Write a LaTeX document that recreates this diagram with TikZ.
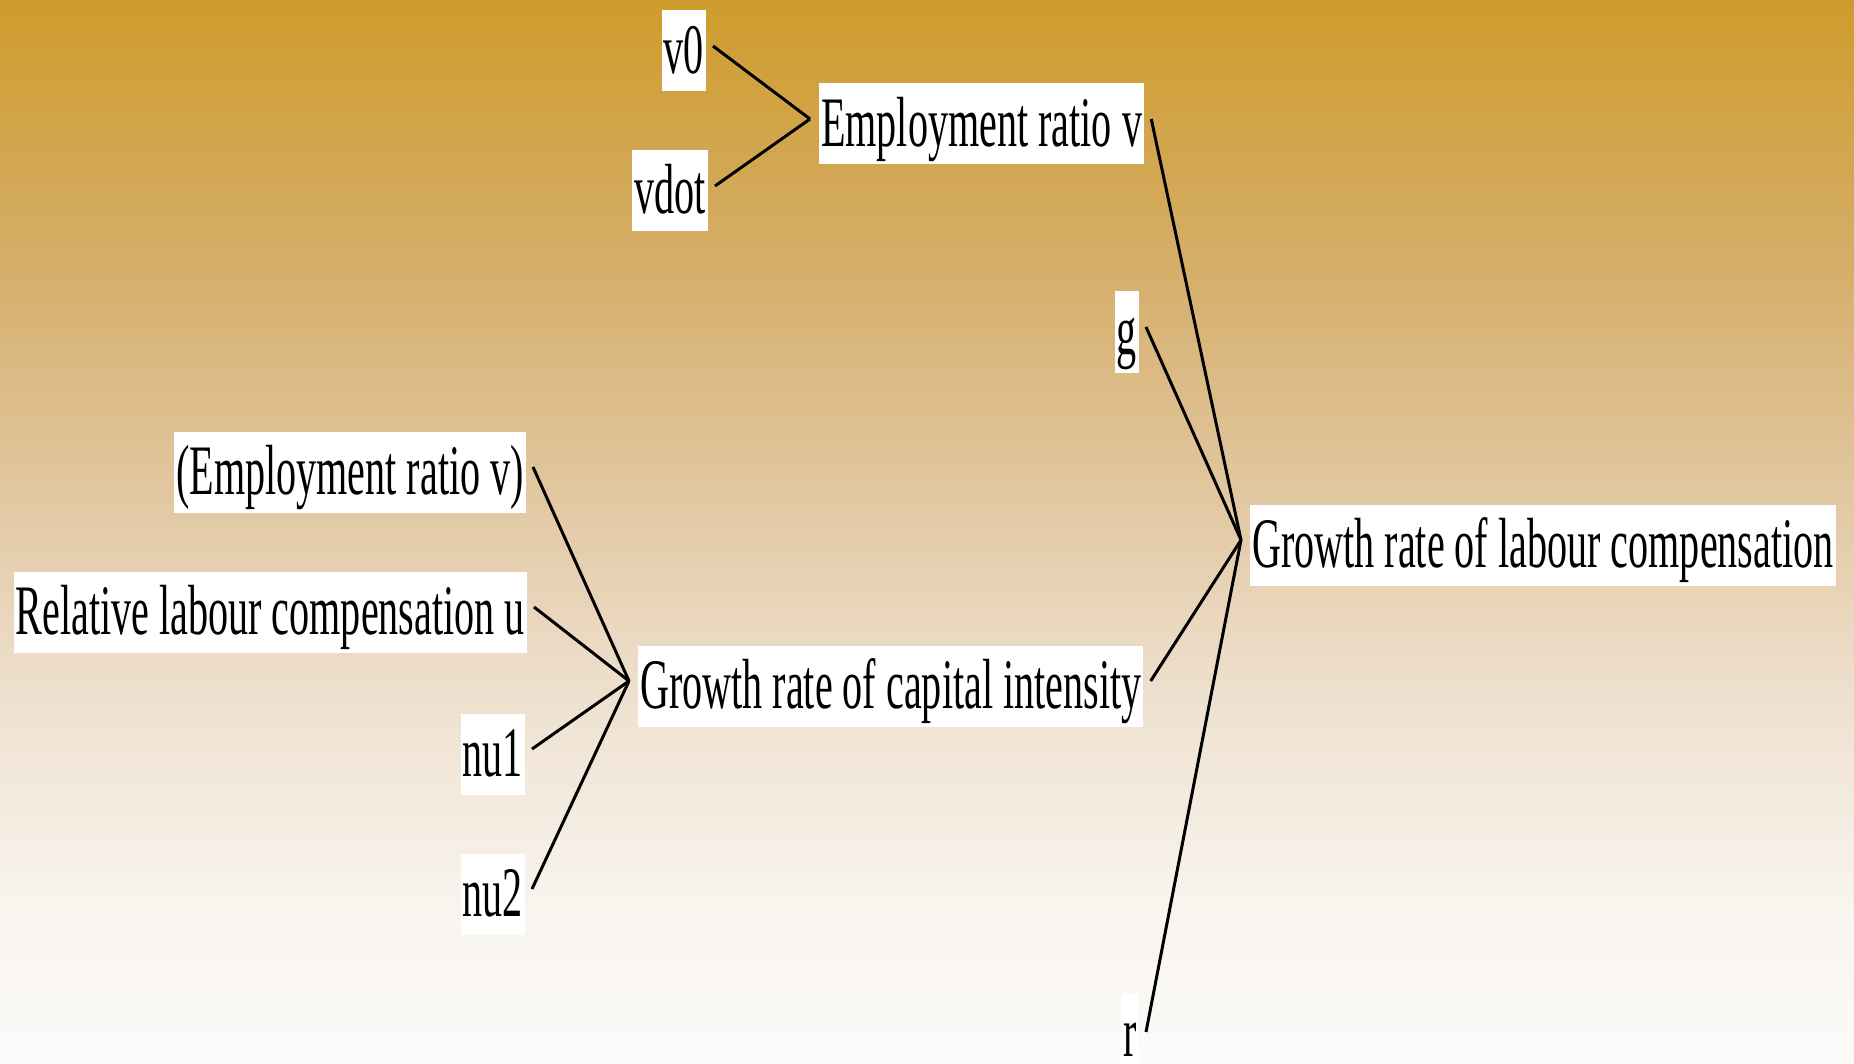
\documentclass[tikz,border=0pt]{standalone}
\usepackage{fontspec}
\setmainfont[FakeStretch=0.565]{Liberation Serif}
% gold-to-white background gradient (stops listed bottom to top)
\pgfdeclareverticalshading{goldfade}{100bp}{%
  rgb(0bp)=(0.988,0.984,0.980);
  rgb(25bp)=(0.988,0.984,0.980);
  rgb(32.5bp)=(0.973,0.957,0.933);
  rgb(42.5bp)=(0.933,0.878,0.808);
  rgb(52.5bp)=(0.882,0.773,0.616);
  rgb(62.5bp)=(0.835,0.682,0.412);
  rgb(75bp)=(0.808,0.612,0.173);
  rgb(100bp)=(0.808,0.612,0.173)}
\begin{document}
\begin{tikzpicture}[x=1pt,y=-1pt,
  box/.style={fill=white, inner xsep=2pt, inner ysep=0pt,
    text height=63pt, text depth=18pt,
    font=\fontsize{71}{80}\selectfont},
  link/.style={line width=3pt, black}]
  \useasboundingbox (0,0) rectangle (1854,1064);
  \shade[shading=goldfade] (0,0) rectangle (1854,1064);

  % variables
  \node[box, anchor=east] (v0)   at (706,51)  {v0};
  \node[box, anchor=east] (vdot) at (708,191) {vdot};
  \node[box, anchor=west] (erv)  at (819,124) {Employment ratio v};
  \node[box, anchor=east] (g)    at (1139,332) {g};
  \node[box, anchor=east] (ervp) at (526,472) {(Employment ratio v)};
  \node[box, anchor=east] (rlc)  at (527,612) {Relative labour compensation u};
  \node[box, anchor=west] (grlc) at (1250,545) {Growth rate of labour compensation};
  \node[box, anchor=west] (grci) at (638,686) {Growth rate of capital intensity};
  \node[box, anchor=east] (nu1)  at (525,754) {nu1};
  \node[box, anchor=east] (nu2)  at (525,894) {nu2};
  \node[box, anchor=base east, text depth=8pt] (r) at (1139,1056) {r};

  % causal links
  \foreach \src/\dst in {v0/erv, vdot/erv,
                         erv/grlc, g/grlc, grci/grlc,
                         ervp/grci, rlc/grci, nu1/grci, nu2/grci}
    \draw[link] ([xshift=7pt,yshift=5pt]\src.east) -- ([xshift=-9pt,yshift=5pt]\dst.west);
  \draw[link] ([xshift=7pt,yshift=-3.5pt]r.east) -- ([xshift=-9pt,yshift=5pt]grlc.west);
\end{tikzpicture}
\end{document}
